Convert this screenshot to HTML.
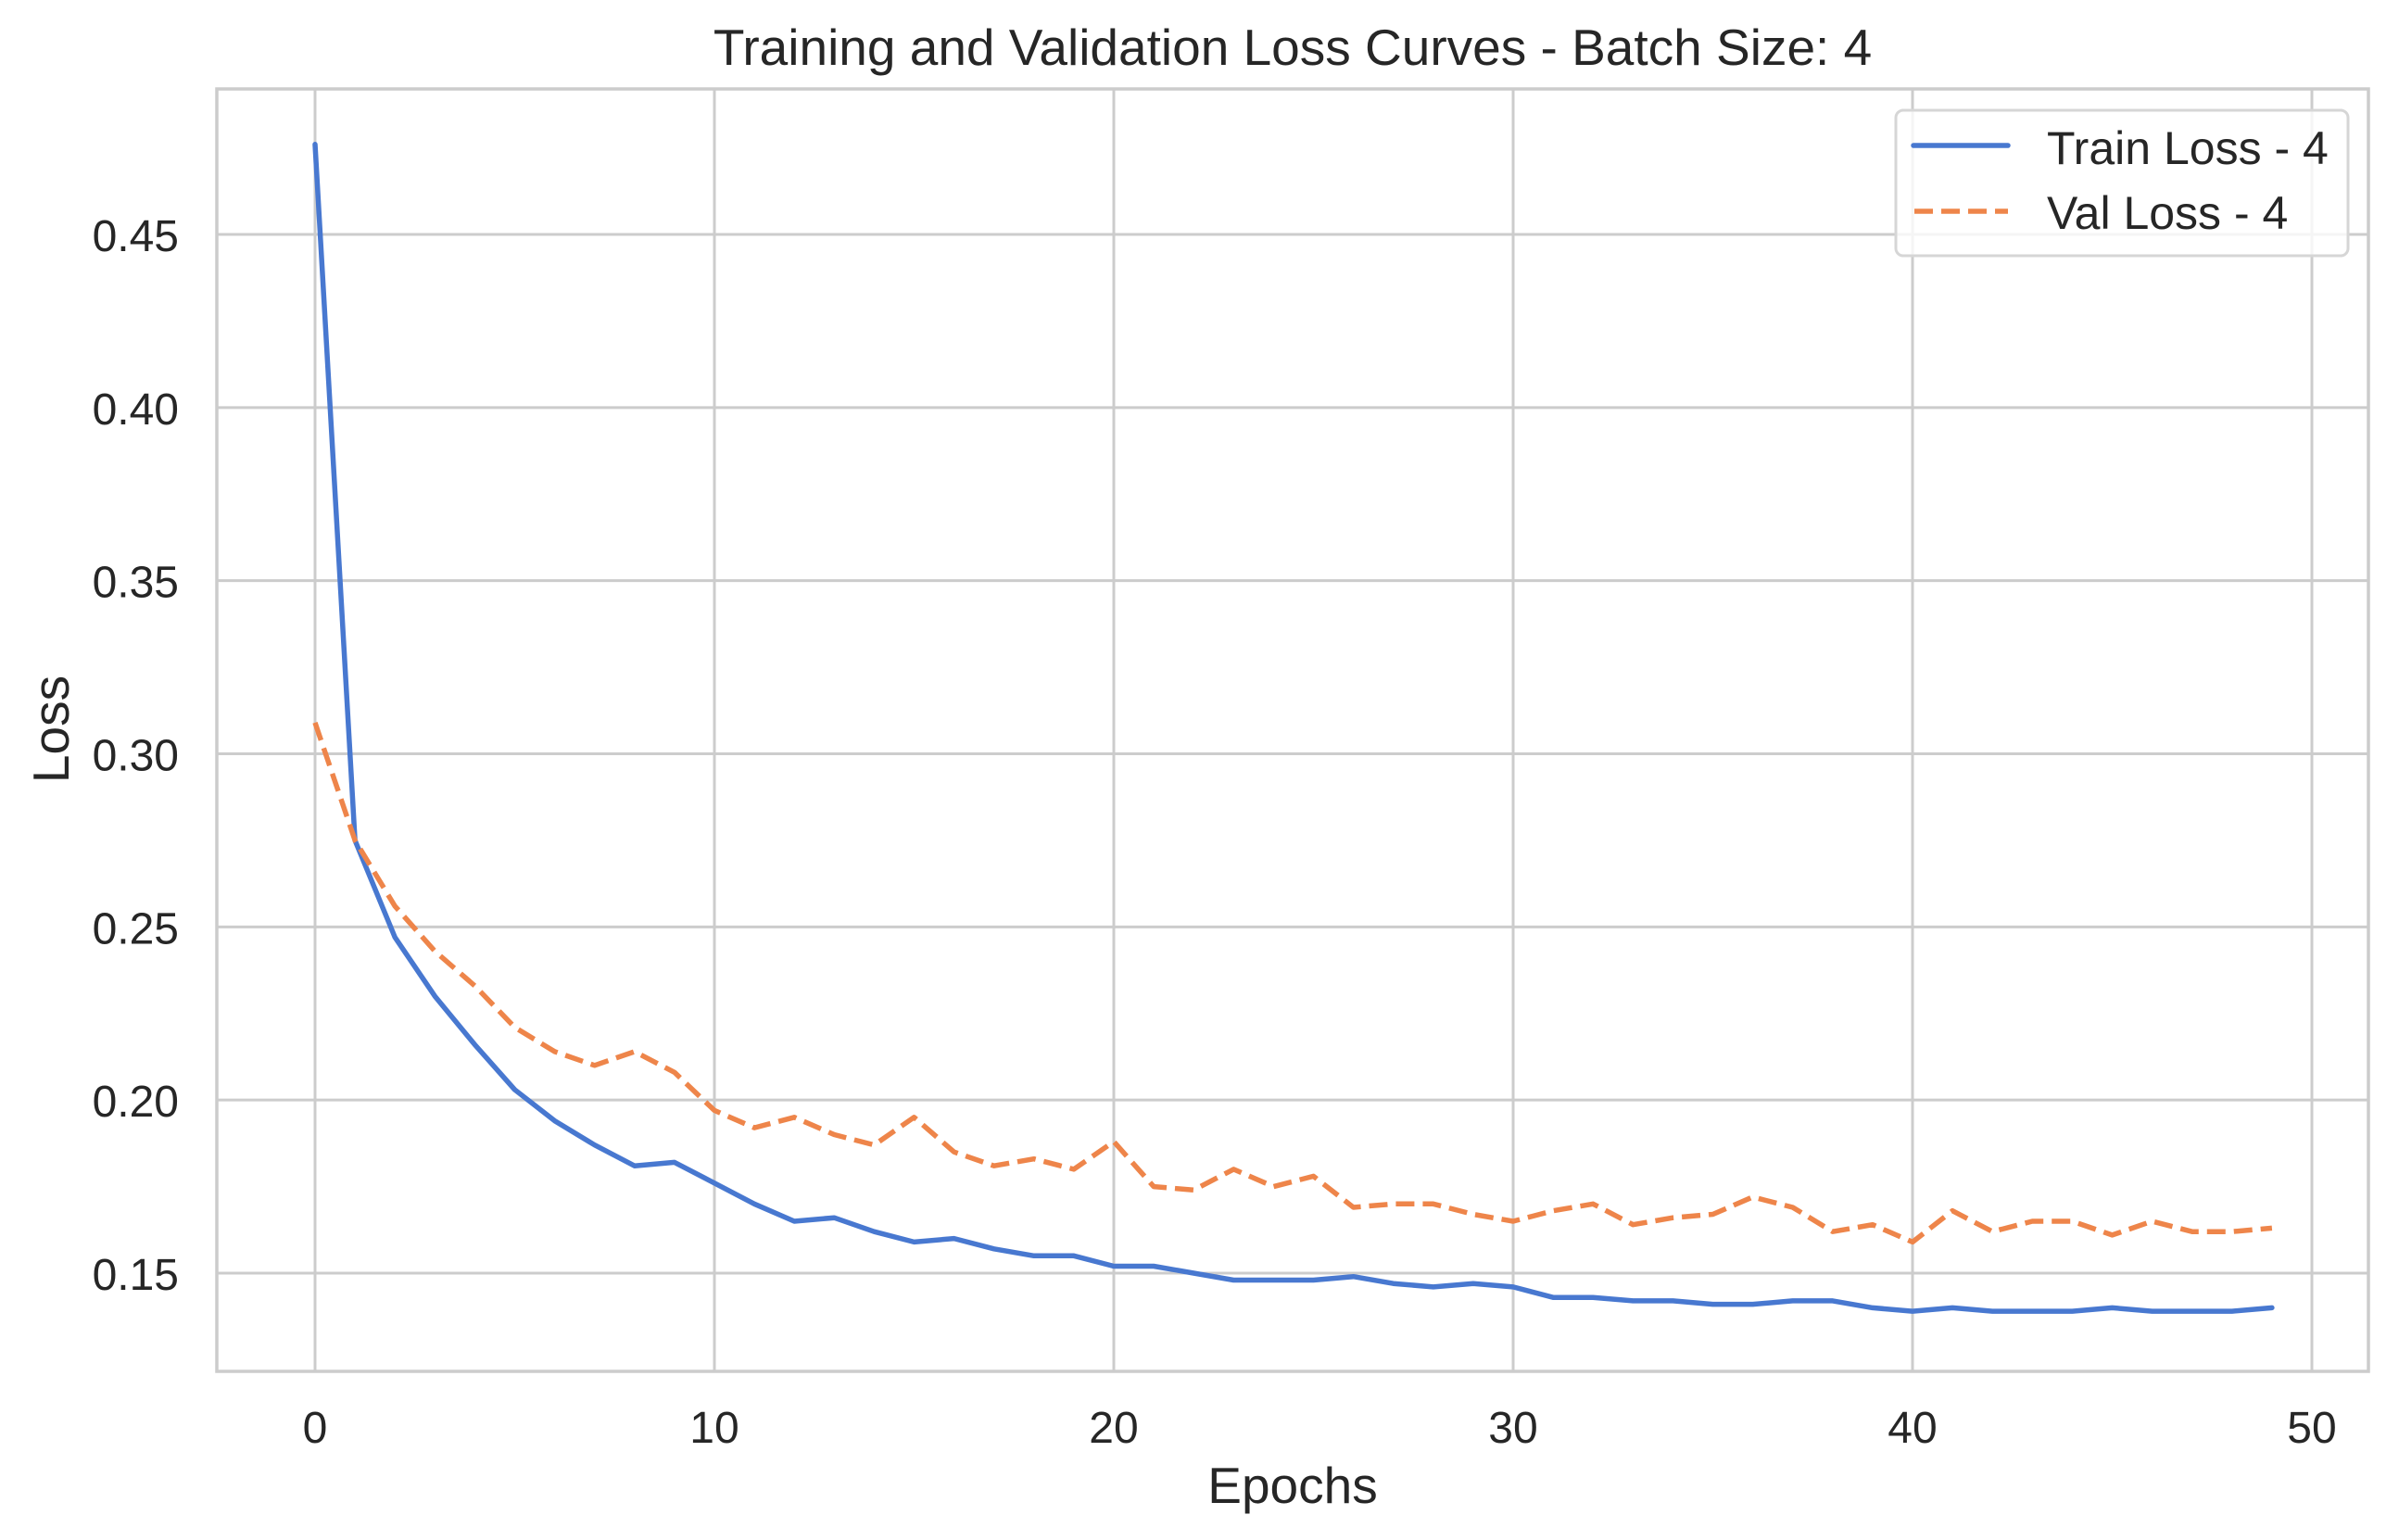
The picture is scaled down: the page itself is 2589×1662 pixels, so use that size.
<!DOCTYPE html>
<html><head><meta charset="utf-8">
<style>
html,body{margin:0;padding:0;background:#fff;}
svg{display:block;font-family:"Liberation Sans",Arial,sans-serif;}
</style></head>
<body>
<svg id="chart" width="2589" height="1662" viewBox="0 0 2589 1662" xmlns="http://www.w3.org/2000/svg">
  <rect x="0" y="0" width="2589" height="1662" fill="#fff"/>
  <g id="grid"></g>
  <g id="lines"></g>
  <rect x="234" y="96" width="2322" height="1384" fill="none" stroke="#cccccc" stroke-width="3.5"/>
  <g id="ticks" fill="#262626" font-size="48"></g>
  <text x="1395" y="70" text-anchor="middle" font-size="55" fill="#262626">Training and Validation Loss Curves - Batch Size: 4</text>
  <text x="1395" y="1622" text-anchor="middle" font-size="55" fill="#262626">Epochs</text>
  <text x="0" y="0" transform="translate(74,787) rotate(-90)" text-anchor="middle" font-size="55" fill="#262626">Loss</text>
  <g>
    <rect x="2046" y="119" width="488" height="157" rx="8" fill="#fff" fill-opacity="0.8" stroke="#d6d6d6" stroke-width="3"/>
    <line x1="2065" y1="157" x2="2167" y2="157" stroke="#4878d0" stroke-width="5.5" stroke-linecap="round"/>
    <line x1="2066" y1="228" x2="2167" y2="228" stroke="#ee854a" stroke-width="5.5" stroke-dasharray="20,9"/>
    <text x="2209" y="177" font-size="50" fill="#262626">Train Loss - 4</text>
    <text x="2209" y="247" font-size="50" fill="#262626">Val Loss - 4</text>
  </g>
</svg>
<script>
const epochs = Array.from({length:50},(_,i)=>i);
const trainLoss = [0.476,0.275,0.247,0.230,0.216,0.203,0.194,0.187,0.181,0.182,0.176,0.170,0.165,0.166,0.162,0.159,0.160,0.157,0.155,0.155,0.152,0.152,0.150,0.148,0.148,0.148,0.149,0.147,0.146,0.147,0.146,0.143,0.143,0.142,0.142,0.141,0.141,0.142,0.142,0.140,0.139,0.140,0.139,0.139,0.139,0.140,0.139,0.139,0.139,0.140];
const valLoss = [0.309,0.275,0.256,0.243,0.233,0.221,0.214,0.210,0.214,0.208,0.197,0.192,0.195,0.190,0.187,0.195,0.185,0.181,0.183,0.180,0.188,0.175,0.174,0.180,0.175,0.178,0.169,0.170,0.170,0.167,0.165,0.168,0.170,0.164,0.166,0.167,0.172,0.169,0.162,0.164,0.159,0.168,0.162,0.165,0.165,0.161,0.165,0.162,0.162,0.163];
const xTicks = [0,10,20,30,40,50];
const yTicks = [0.15,0.20,0.25,0.30,0.35,0.40,0.45];
const yTickLabels = ["0.15","0.20","0.25","0.30","0.35","0.40","0.45"];

const NS = "http://www.w3.org/2000/svg";
const PL=234, PR=2556, PT=96, PB=1480;
function xs(v){ return 340 + v*(2495-340)/50; }
function ys(v){ return 1374 - (v-0.15)*(1374-253)/0.30; }

const grid = document.getElementById('grid');
const ticks = document.getElementById('ticks');
xTicks.forEach(t=>{
  const l=document.createElementNS(NS,'line');
  l.setAttribute('x1',xs(t));l.setAttribute('x2',xs(t));l.setAttribute('y1',PT);l.setAttribute('y2',PB);
  l.setAttribute('stroke','#cccccc');l.setAttribute('stroke-width','3');
  
  
  grid.appendChild(l);
  const tx=document.createElementNS(NS,'text');
  tx.setAttribute('x',xs(t));tx.setAttribute('y',1557);tx.setAttribute('text-anchor','middle');
  tx.textContent=String(t);
  
  
  ticks.appendChild(tx);
});
yTicks.forEach((t,i)=>{
  const l=document.createElementNS(NS,'line');
  l.setAttribute('x1',PL);l.setAttribute('x2',PR);l.setAttribute('y1',ys(t));l.setAttribute('y2',ys(t));
  l.setAttribute('stroke','#cccccc');l.setAttribute('stroke-width','3');
  
  
  grid.appendChild(l);
  const tx=document.createElementNS(NS,'text');
  tx.setAttribute('x',193);tx.setAttribute('y',ys(t)+18);tx.setAttribute('text-anchor','end');
  tx.textContent=yTickLabels[i];
  
  
  ticks.appendChild(tx);
});
const lines=document.getElementById('lines');
function addLine(vals,color,dash,name){
  const p=document.createElementNS(NS,'polyline');
  p.setAttribute('points',vals.map((v,i)=>xs(epochs[i]).toFixed(1)+','+ys(v).toFixed(1)).join(' '));
  p.setAttribute('fill','none');p.setAttribute('stroke',color);p.setAttribute('stroke-width','5.5');
  p.setAttribute('stroke-linejoin','round');p.setAttribute('stroke-linecap',dash?'butt':'round');
  if(dash)p.setAttribute('stroke-dasharray',dash);
  
  
  lines.appendChild(p);
}
addLine(trainLoss,'#4878d0',null,'train-loss-line');
addLine(valLoss,'#ee854a','20,9','val-loss-line');
</script>
</body></html>
